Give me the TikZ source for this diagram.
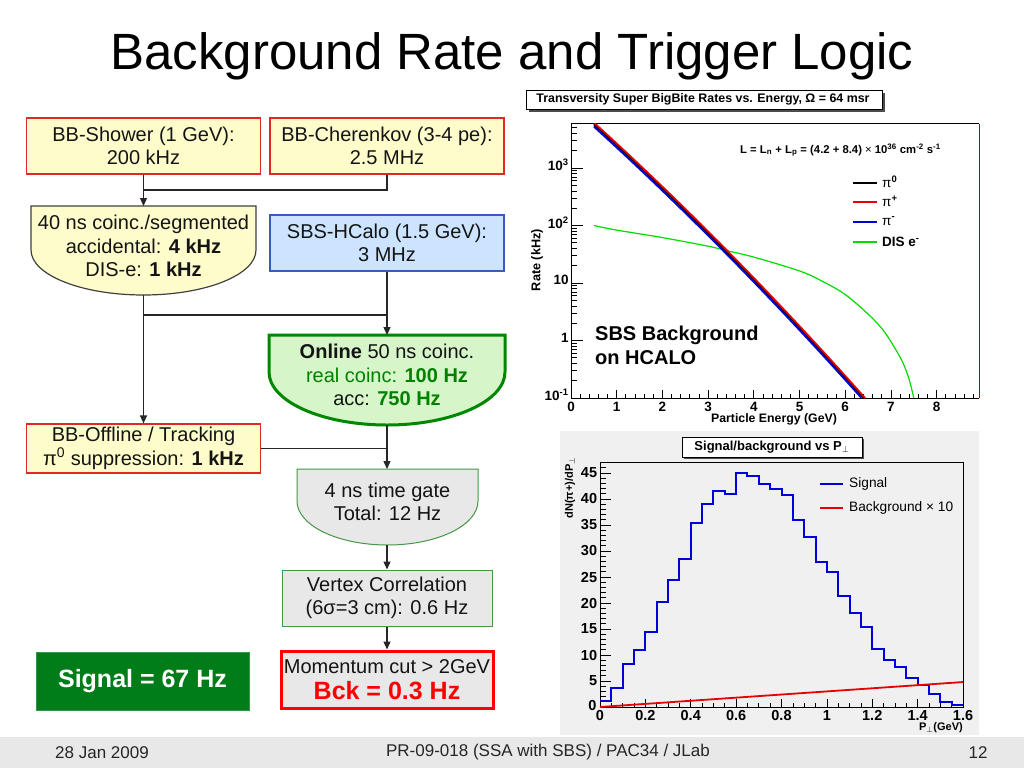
\documentclass[tikz,border=0pt]{standalone}
\usepackage{fontspec}
\setmainfont{Liberation Sans}
\usetikzlibrary{arrows.meta}
\definecolor{ylw}{RGB}{255,252,204}
\definecolor{bred}{RGB}{225,40,40}
\definecolor{bluefill}{RGB}{204,228,255}
\definecolor{blueborder}{RGB}{60,90,190}
\definecolor{onfill}{RGB}{214,245,200}
\definecolor{ongreen}{RGB}{0,135,0}
\definecolor{gfill}{RGB}{232,232,232}
\definecolor{gborder}{RGB}{70,150,70}
\definecolor{sigfill}{RGB}{0,125,25}
\definecolor{txtgreen}{RGB}{0,130,0}
\definecolor{framered}{RGB}{140,20,20}
\definecolor{plotgray}{RGB}{240,240,240}
\definecolor{footgray}{RGB}{232,232,232}
\definecolor{pgreen}{RGB}{0,220,0}
\definecolor{pred}{RGB}{230,0,0}
\definecolor{pblue}{RGB}{0,0,220}
\definecolor{boxtxt}{RGB}{20,20,20}
\begin{document}
\begin{tikzpicture}[x=1pt,y=-1pt,
  fc/.style={font=\fontsize{20}{23.5}\selectfont, text=boxtxt, align=center, inner sep=0pt},
  ybox/.style={fc, draw=bred, fill=ylw, line width=1.2pt, minimum width=234pt, minimum height=56pt},
  conn/.style={draw=black!85, line width=1.3pt},
  arr/.style={conn, -{Triangle[length=8pt,width=7pt]}},
  foot/.style={font=\fontsize{17}{20}\selectfont, text=black!85, inner sep=0pt},
  tk/.style={line width=0.7pt},
  tl/.style={font=\fontsize{13.5}{14}\selectfont\bfseries, inner sep=0pt},
  bl/.style={font=\fontsize{14.5}{15}\selectfont\bfseries, inner sep=0pt},
  pl/.style={line width=1.8pt}
]
\useasboundingbox (0,0) rectangle (1024,768);
\fill[white] (0,0) rectangle (1024,768);

% ---------- footer ----------
\fill[footgray] (0,737) rectangle (1024,768);
\node[foot, anchor=west] (date) at (55,753) {28 Jan 2009};
\node[foot] (conf) at (548,752) {PR-09-018 (SSA with SBS) / PAC34 / JLab};
\node[foot] (pg) at (978,753) {12};

% ---------- title ----------
\node[font=\fontsize{51}{60}\selectfont, anchor=base, inner sep=0pt] (title) at (512,70) {Background Rate and Trigger Logic};

% ---------- flowchart shapes with elliptic bottoms ----------
\path[draw=black!75, fill=ylw, line width=1.2pt]
  (31,206) -- (256,206) -- (256,250)
  .. controls (256,274.9) and (205.6,295) .. (143.5,295)
  .. controls (81.4,295) and (31,274.9) .. (31,250) -- cycle;
\path[draw=ongreen, fill=onfill, line width=3pt]
  (269,335) -- (505,335) -- (505,372)
  .. controls (505,401.3) and (452.2,425) .. (387,425)
  .. controls (321.8,425) and (269,401.3) .. (269,372) -- cycle;
\path[draw=gborder, fill=gfill, line width=1pt]
  (297,469) -- (478,469) -- (478,501)
  .. controls (478,525.3) and (437.5,545) .. (387.5,545)
  .. controls (337.5,545) and (297,525.3) .. (297,501) -- cycle;

% ---------- flowchart nodes ----------
\node[ybox] (shower) at (143.5,146) {BB-Shower (1 GeV):\\200 kHz};
\node[ybox] (cheren) at (387,146) {BB-Cherenkov (3-4 pe):\\2.5 MHz};
\node[fc] (coinc) at (143.5,246) {40 ns coinc./segmented\\accidental: \textbf{4 kHz}\\DIS-e: \textbf{1 kHz}};
\node[fc, draw=blueborder, fill=bluefill, line width=1.2pt, minimum width=234pt, minimum height=56pt] (hcalo) at (387,243) {SBS-HCalo (1.5 GeV):\\3 MHz};
\node[fc] (online) at (387,375) {\textbf{Online} 50 ns coinc.\\{\color{txtgreen}real coinc: \textbf{100 Hz}}\\acc: {\color{txtgreen}\textbf{750 Hz}}};
\node[ybox, minimum height=49pt] (offline) at (143.5,448.5) {BB-Offline / Tracking\\π\textsuperscript{0} suppression: \textbf{1 kHz}};
\node[fc] (gate) at (387.5,502) {4 ns time gate\\Total: 12 Hz};
\node[fc, draw=gborder, fill=gfill, line width=1pt, minimum width=210pt, minimum height=56pt] (vertex) at (387,598) {Vertex Correlation\\(6σ=3 cm): 0.6 Hz};
\node[fc, draw=red, fill=gfill, line width=3pt, minimum width=212pt, minimum height=57pt] (momentum) at (387,679.5) {Momentum cut > 2GeV\\[3pt]{\fontsize{25}{28}\selectfont\bfseries\color{red}Bck = 0.3 Hz}};
\node[fc, draw=sigfill!80!white, fill=sigfill, line width=1pt, minimum width=213pt, minimum height=58pt, text=white, font=\fontsize{25}{28}\selectfont\bfseries] (signal) at (142.5,681) {Signal = 67 Hz};

% ---------- connector points ----------
\coordinate (coincT) at (143.5,206);
\coordinate (coincB) at (143.5,295);
\coordinate (j1) at (143.5,190);
\coordinate (j2) at (143.5,315);
\coordinate (j3) at (387,315);
\coordinate (onlineT) at (387,335);
\coordinate (onlineB) at (387,425);
\coordinate (j4) at (387,448.5);
\coordinate (gateT) at (387,469);
\coordinate (gateB) at (387,545);

\draw[arr] (shower.south) -- (coincT);
\draw[conn] (cheren.south) |- (j1);
\draw[arr] (coincB) -- (offline.north);
\draw[conn] (j2) -- (j3);
\draw[arr] (hcalo.south) -- (onlineT);
\draw[arr] (onlineB) -- (gateT);
\draw[conn] (offline.east) -- (j4);
\draw[arr] (gateB) -- (vertex.north);
\draw[arr] (vertex.south) -- (momentum.north);

% ---------- top plot ----------
\fill[black!70] (529,93) rectangle (885,112);
\draw[fill=white, line width=0.8pt] (526,90) rectangle (882,109);
\node[font=\fontsize{12.4}{13}\selectfont\bfseries, inner sep=0pt] (t1) at (703,99.5) {Transversity Super BigBite Rates vs. Energy, Ω = 64 msr};

\begin{scope}[shift={(571,398)}, x=45.7pt, y=57.5pt]
  \draw[line width=0.8pt] (0,4.77) -- (0,0) -- (8.93,0);
  \draw[line width=0.8pt] (0,4.77) -- (8.93,4.77);
  \draw[line width=1pt, framered] (8.93,0) -- (8.93,4.77);
  \foreach \d in {0,...,4}{
    \draw[tk] (0,\d) -- ++(12pt,0pt);
    \foreach \m in {2,...,9}{
      \pgfmathsetmacro\yy{\d+log10(\m)}
      \pgfmathparse{\yy<4.77?1:0}
      \ifnum\pgfmathresult=1 \draw[tk] (0,\yy) -- ++(6pt,0pt);\fi
    }
  }
  \foreach \i in {0,...,8} \draw[tk] (\i,0) -- ++(0pt,8pt);
  \foreach \i in {1,...,44} \draw[tk] (\i*0.2,0) -- ++(0pt,4pt);
  \foreach \i in {0,...,8} \node[tl, anchor=north] (xl\i) at (\i,-0.07) {\i};
  \node[tl, anchor=east] (yl0) at (-0.05,0.05) {10\textsuperscript{-1}};
  \node[tl, anchor=east] (yl1) at (-0.05,1.05) {1};
  \node[tl, anchor=east] (yl2) at (-0.05,2.05) {10};
  \node[tl, anchor=east] (yl3) at (-0.05,3.05) {10\textsuperscript{2}};
  \node[tl, anchor=east] (yl4) at (-0.05,4.05) {10\textsuperscript{3}};
  \begin{scope}
    \clip (0,0) rectangle (8.93,4.77);
    \draw[pgreen, line width=1.2pt] plot[smooth, tension=0.55] coordinates {(0.5,3.0) (1,2.92) (2,2.79) (3,2.64) (3.37,2.57) (4,2.45) (5,2.21) (5.5,2.03) (6,1.8) (6.5,1.46) (6.83,1.18) (7.1,0.85) (7.27,0.6) (7.4,0.32) (7.5,0)};
    \draw[black, pl] plot[domain=0.5:6.4, samples=30] (\x, {4.76 - 0.763*(\x-0.5) - 0.0144*(\x-0.5)*(\x-3.37)});
    \draw[pblue, pl] plot[domain=0.5:6.353, samples=30] (\x, {4.72 - 0.763*(\x-0.5) - 0.0144*(\x-0.5)*(\x-3.37)});
    \draw[pred, pl] plot[domain=0.5:6.435, samples=30] (\x, {4.79 - 0.763*(\x-0.5) - 0.0144*(\x-0.5)*(\x-3.37)});
  \end{scope}
\end{scope}
\node[tl, font=\fontsize{12.7}{13}\selectfont\bfseries, rotate=90] (ylab) at (537,260) {Rate (kHz)};
\node[tl, font=\fontsize{12.3}{13}\selectfont\bfseries] (xlab) at (774,419) {Particle Energy (GeV)};
\node[font=\fontsize{11.3}{12}\selectfont\bfseries, anchor=west, inner sep=0pt] (lumi) at (740,150) {L = L\textsubscript{n} + L\textsubscript{p} = (4.2 + 8.4) {\mdseries ×} 10\textsuperscript{36} cm\textsuperscript{-2} s\textsuperscript{-1}};
\draw[black, line width=1.2pt] (853,183) -- (877,183);
\draw[pred, line width=1.2pt] (853,202) -- (877,202);
\draw[pblue, line width=1.2pt] (853,222) -- (877,222);
\draw[pgreen, line width=1.2pt] (853,242) -- (877,242);
\node[tl, anchor=west] (lg0) at (882,182) {\mdseries π\textsuperscript{\bfseries 0}};
\node[tl, anchor=west] (lg1) at (882,201) {\mdseries π\textsuperscript{\bfseries +}};
\node[tl, anchor=west] (lg2) at (882,221) {\mdseries π\textsuperscript{\bfseries -}};
\node[tl, anchor=west] (lg3) at (882,242) {DIS e\textsuperscript{-}};
\node[font=\fontsize{20}{24}\selectfont\bfseries, align=left, anchor=west, inner sep=0pt] (sbs) at (595,345) {SBS Background\\on HCALO};

% ---------- bottom plot ----------
\fill[plotgray] (560,431) rectangle (979,735);
\fill[black!70] (684,439) rectangle (864,459);
\draw[fill=white, line width=0.8pt] (682,437) rectangle (862,457);
\node[font=\fontsize{13}{14}\selectfont\bfseries, inner sep=0pt] (t2) at (772,447) {Signal/background vs P$_\perp$};
\begin{scope}[shift={(600,707)}, x=226.875pt, y=5.2pt]
  \draw[line width=0.8pt] (0,0) rectangle (1.6,47.1);
  \foreach \v in {0,5,...,45} \draw[tk] (0,\v) -- ++(11pt,0pt);
  \foreach \v in {1,...,47} \draw[tk] (0,\v) -- ++(5.5pt,0pt);
  \foreach \i in {0,...,8} \draw[tk] (\i*0.2,0) -- ++(0pt,8pt);
  \foreach \i in {1,...,31} \draw[tk] (\i*0.05,0) -- ++(0pt,4pt);
  \foreach \v in {5,10,...,45} \node[bl, anchor=east] (by\v) at (-0.012,\v) {\v};
  \node[bl, anchor=east] (by0) at (-0.015,0.3) {0};
  \foreach \x in {0,0.2,0.4,0.6,0.8,1,1.2,1.4,1.6} \node[bl, anchor=north] (bx\x) at (\x,-0.7) {\x};
  \draw[pblue, line width=2pt] (0,1.2) \foreach \i/\v in {0/1.2,1/3.7,2/8.2,3/10.9,4/14.5,5/20.1,6/24.5,7/28.4,8/35.4,9/39.1,10/41.6,11/40.9,12/45.0,13/44.5,14/42.9,15/42.0,16/40.7,17/36.0,18/32.6,19/27.8,20/26.0,21/21.3,22/18.0,23/15.4,24/11.1,25/9.1,26/7.7,27/5.5,28/4.2,29/2.5,30/1.0,31/0.3} { -- (\i*0.05,\v) -- (\i*0.05+0.05,\v) };
  \draw[pred, line width=1.8pt] (0,0) -- (1.6,4.8);
\end{scope}
\node[font=\fontsize{11}{12}\selectfont\bfseries, rotate=90, inner sep=0pt] (bylab) at (570,488) {dN(π+)/dP$_\perp$};
\node[font=\fontsize{11}{12}\selectfont\bfseries, anchor=east, inner sep=0pt] (bxlab) at (963,728) {P$_\perp$(GeV)};
\draw[pblue, line width=1.8pt] (820,484) -- (843,484);
\draw[pred, line width=1.8pt] (820,508) -- (843,508);
\node[font=\fontsize{13.7}{14}\selectfont, anchor=west, inner sep=0pt] (lsig) at (849,484) {Signal};
\node[font=\fontsize{13.7}{14}\selectfont, anchor=west, inner sep=0pt] (lbg) at (849,508) {Background × 10};
\end{tikzpicture}
\end{document}
